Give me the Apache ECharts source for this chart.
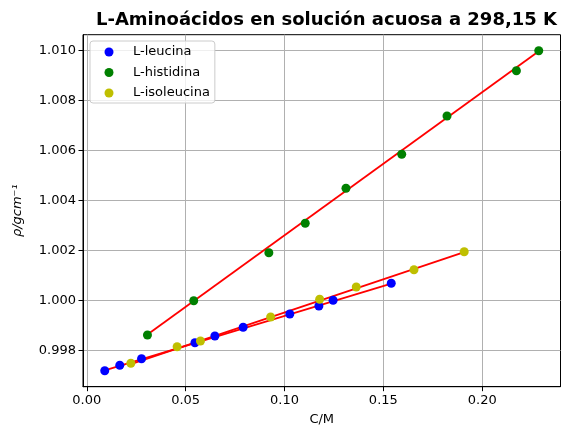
<!DOCTYPE html>
<html>
<head>
<meta charset="utf-8">
<script src="https://cdn.jsdelivr.net/npm/echarts@6/dist/echarts.min.js"></script>
<style>html,body{margin:0;padding:0;background:#fff}#c{width:562px;height:425px}</style>
</head>
<body>
<div id="c"></div>
<script>
const titleText = 'L-Aminoácidos en solución acuosa a 298,15 K';
const seriesNames = ['L-leucina', 'L-histidina', 'L-isoleucina'];
const leucinaC = [0.0091, 0.0167, 0.0277, 0.0547, 0.0648, 0.0791, 0.1027, 0.1174, 0.1246, 0.1540];
const leucinaRho = [0.99720, 0.99742, 0.99768, 0.99832, 0.99859, 0.99894, 0.99947, 0.99979, 1.00002, 1.00070];
const histidinaC = [0.0307, 0.0541, 0.0921, 0.1105, 0.1311, 0.1593, 0.1822, 0.2173, 0.2286];
const histidinaRho = [0.99863, 1.00000, 1.00192, 1.00310, 1.00450, 1.00586, 1.00739, 1.00920, 1.01000];
const isoleucinaC = [0.0223, 0.0457, 0.0575, 0.0930, 0.1178, 0.1363, 0.1655, 0.1909];
const isoleucinaRho = [0.99750, 0.99816, 0.99839, 0.99935, 1.00006, 1.00055, 1.00124, 1.00196];
const leucinaFitC = [0.0091, 0.1540];
const leucinaFitRho = [0.99721, 1.00068];
const histidinaFitC = [0.0307, 0.2286];
const histidinaFitRho = [0.99865, 1.00998];
const isoleucinaFitC = [0.0223, 0.1909];
const isoleucinaFitRho = [0.99746, 1.00194];
const xTicks = [0.00, 0.05, 0.10, 0.15, 0.20];
const yTicks = [0.998, 1.000, 1.002, 1.004, 1.006, 1.008, 1.010];
const xLabel = 'C/M';
const yLabel = 'ρ/gcm⁻¹';

const zip = (a, b) => a.map((v, i) => [v, b[i]]);
const FONT = 'DejaVu Sans';
const colors = ['#0000ff', '#008000', '#bfbf00'];

function scatter(name, c, r, color) {
  return { name, type: 'scatter', data: zip(c, r), symbol: 'circle', symbolSize: 9,
    itemStyle: { color, opacity: 1 }, emphasis: { disabled: true }, z: 2 };
}
function fit(c, r) {
  return { type: 'line', data: zip(c, r), symbol: 'none', showSymbol: false,
    lineStyle: { color: '#ff0000', width: 1.8 }, emphasis: { disabled: true }, z: 2 };
}

const chart = echarts.init(document.getElementById('c'), null, { renderer: 'canvas' });
chart.setOption({
  animation: false,
  backgroundColor: '#ffffff',
  title: {
    text: titleText, left: 321.5, top: 6, textAlign: 'center',
    textStyle: { fontFamily: FONT, fontSize: 18, fontWeight: 'bold', color: '#000' }
  },
  grid: { left: 83, right: 1.5, top: 34.7, bottom: 38.3, outerBoundsMode: 'none', containLabel: false,
    show: true, borderColor: '#000', borderWidth: 1, backgroundColor: 'transparent' },
  legend: {
    data: seriesNames.map(n => ({ name: n, icon: 'circle' })),
    orient: 'vertical', left: 90, top: 41,
    padding: [4, 5, 3, 14.5],
    itemWidth: 9, itemHeight: 9, itemGap: 6.5,
    borderColor: '#cccccc', borderWidth: 1, borderRadius: 3,
    backgroundColor: 'rgba(255,255,255,0.8)',
    textStyle: { fontFamily: FONT, fontSize: 13, color: '#000', lineHeight: 14, padding: [0, 0, 0, 14.5] },
    selectedMode: false
  },
  xAxis: {
    type: 'value', min: -0.0019, max: 0.2396,
    name: xLabel, nameLocation: 'middle', nameGap: 26,
    nameTextStyle: { fontFamily: FONT, fontSize: 13, color: '#000' },
    axisLine: { show: true, onZero: false, lineStyle: { color: '#000', width: 1 } },
    axisTick: { show: true, inside: false, length: 4.5, customValues: xTicks, lineStyle: { color: '#000' } },
    axisLabel: { customValues: xTicks, fontFamily: FONT, fontSize: 13, color: '#000', margin: 7,
      formatter: v => v.toFixed(2) },
    splitLine: { show: true, lineStyle: { color: '#b0b0b0', width: 1 } }
  },
  yAxis: {
    type: 'value', min: 0.99656, max: 1.01064,
    name: yLabel, nameLocation: 'middle', nameGap: 59, nameRotate: 90,
    nameTextStyle: { fontFamily: FONT, fontSize: 13, color: '#000', fontStyle: 'italic' },
    axisLine: { show: true, onZero: false, lineStyle: { color: '#000', width: 1 } },
    axisTick: { show: true, inside: false, length: 4.5, customValues: yTicks, lineStyle: { color: '#000' } },
    axisLabel: { customValues: yTicks, fontFamily: FONT, fontSize: 13, color: '#000', margin: 7,
      formatter: v => v.toFixed(3) },
    splitLine: { show: true, lineStyle: { color: '#b0b0b0', width: 1 } }
  },
  series: [
    scatter(seriesNames[0], leucinaC, leucinaRho, colors[0]),
    fit(leucinaFitC, leucinaFitRho),
    scatter(seriesNames[1], histidinaC, histidinaRho, colors[1]),
    fit(histidinaFitC, histidinaFitRho),
    scatter(seriesNames[2], isoleucinaC, isoleucinaRho, colors[2]),
    fit(isoleucinaFitC, isoleucinaFitRho)
  ]
});
</script>
</body>
</html>
